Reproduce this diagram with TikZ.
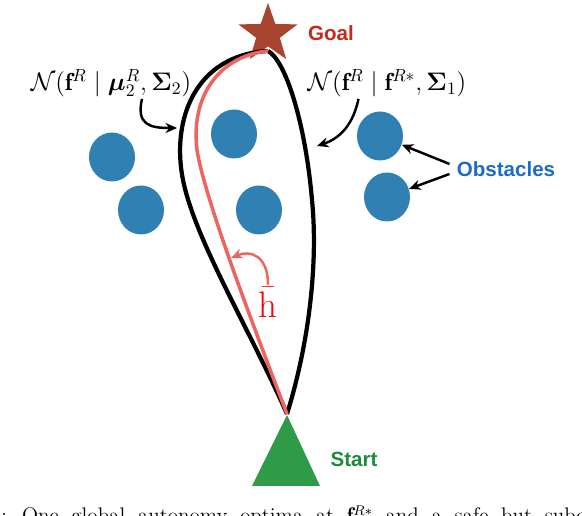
\documentclass[tikz,border=0pt]{standalone}
\usepackage{amsmath}
\usepackage{bm}
\usepackage{fontspec}
\newfontfamily\tagfont{Liberation Sans}
\usetikzlibrary{arrows.meta, positioning, shapes.geometric}
\definecolor{goalfill}{HTML}{A8432F}
\definecolor{goaltext}{HTML}{C8281A}
\definecolor{obsfill}{HTML}{3080B4}
\definecolor{obstext}{HTML}{1B6CC8}
\definecolor{startfill}{HTML}{2F9A48}
\definecolor{starttext}{HTML}{1E8C3A}
\definecolor{safeline}{HTML}{EE6560}
\newcommand{\capfont}{\fontsize{12}{14}\selectfont\spaceskip 7.2pt\relax}
\tikzset{
  obstacle/.style = {ellipse, fill=obsfill, minimum width=9.2mm, minimum height=9.8mm, inner sep=0pt},
  goalmark/.style = {star, star points=5, star point ratio=2.5, fill=goalfill,
                     minimum size=12.4mm, inner sep=0pt},
  tag/.style      = {font=\tagfont\bfseries\fontsize{11.7}{14}\selectfont, inner sep=0pt},
  mathlbl/.style  = {font=\fontsize{14}{17}\selectfont, inner sep=1pt},
  route/.style    = {line width=2.4pt, draw=black},
  saferoute/.style= {line width=2pt, draw=safeline},
  callout/.style  = {-{Stealth[length=2.3mm, width=2mm]}, line width=1.4pt},
}

\begin{document}
\begin{tikzpicture}[x=0.02cm, y=-0.02cm]
  \useasboundingbox (0,0) rectangle (582,516);

  % obstacles
  \node[obstacle] (ob1) at (112,157) {};
  \node[obstacle] (ob2) at (234,134) {};
  \node[obstacle] (ob3) at (141,210) {};
  \node[obstacle] (ob4) at (259,210) {};
  \node[obstacle] (ob5) at (380,136) {};
  \node[obstacle] (ob6) at (387,197) {};

  % goal and start
  \node[goalmark] (goal) at (268,34) {};
  \fill[startfill] (252,486) -- (287,415) -- (320,486) -- cycle;
  \coordinate (goalpt) at (268,51);
  \coordinate (startpt) at (287,414);
  \node[tag, text=goaltext] (goaltag) at (331,33) {Goal};
  \node[tag, text=starttext] (starttag) at (354,459) {Start};
  \node[tag, text=obstext] (obstag) at (506,169) {Obstacles};

  % the two gaussians and the safe path
  \draw[route] (startpt) .. controls (250,330) and (195,240) .. (183,180)
               .. controls (171,120) and (195,55) .. (goalpt);
  \draw[route] (startpt) .. controls (310,340) and (318,260) .. (312,200)
               .. controls (305,120) and (285,60) .. (goalpt);
  \draw[saferoute] (startpt) .. controls (255,330) and (205,200) .. (197,150)
               .. controls (190,90) and (225,55) .. (goalpt);

  % labels
  \node[mathlbl] (gaussL) at (111,83)
    {$\mathcal{N}(\mathbf{f}^R \mid \bm{\mu}_2^R, \bm{\Sigma}_2)$};
  \node[mathlbl] (gaussR) at (387,83)
    {$\mathcal{N}(\mathbf{f}^R \mid \mathbf{f}^{R*}, \bm{\Sigma}_1)$};
  \node[font=\fontsize{21}{24}\selectfont, text=red, inner sep=1pt] (hbar) at (268,302)
    {$\bar{\mathrm{h}}$};

  \coordinate (tipL) at (177,128);
  \coordinate (tipR) at (317,146);
  \coordinate (tipH) at (231,258);
  \draw[callout] ([xshift=6.2mm]gaussL.south) .. controls (136,125) and (150,128) .. (tipL);
  \draw[callout] ([xshift=-5.7mm]gaussR.south) .. controls (352,130) and (335,140) .. (tipR);
  \draw[callout] ([yshift=1mm]obstag.west) ++(-1.4mm,0) -- (ob5);
  \draw[callout] ([yshift=-1mm]obstag.west) ++(-1.4mm,0) -- (ob6);
  \draw[callout, draw=safeline] (hbar.north) .. controls (268,255) and (250,250) .. (tipH);

  % caption, cut off by the page edge
  \node[anchor=base west, inner sep=0pt, font=\capfont] (caption) at (1,523)
    {: One global autonomy optima at $\mathbf{f}^{R*}$ and a safe but suboptimal};
\end{tikzpicture}
\end{document}
